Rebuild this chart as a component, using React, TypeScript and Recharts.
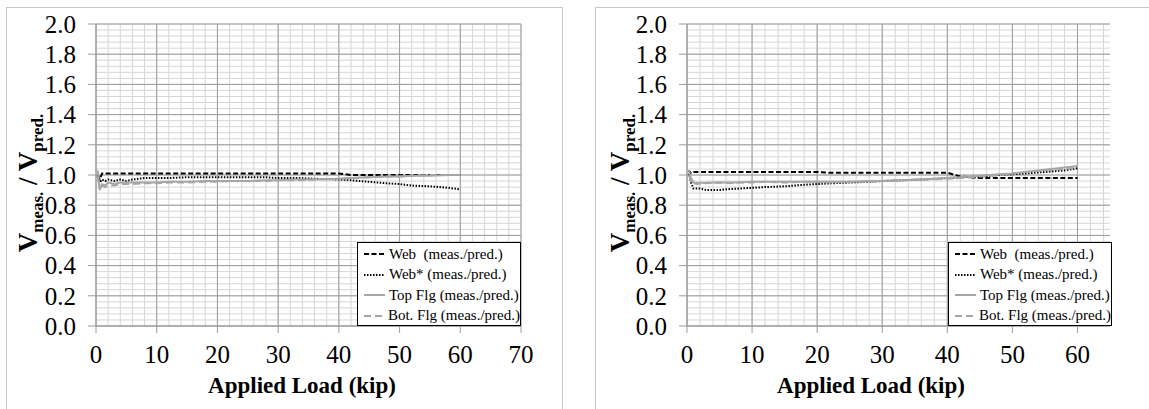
import React from 'react'
import {
  LineChart, Line, XAxis, YAxis, CartesianGrid, Legend, Label,
} from 'recharts'

const FONT = '"Liberation Serif", "Times New Roman", serif'

// applied load (kip) sample points
const loads = [0.3, 0.6, 1, 1.5, 2, 3, 4, 5, 6, 8, 10, 12, 15, 18, 20, 22, 25, 28, 30, 33, 36, 40, 42, 45, 48, 50, 52, 55, 58, 60]

// left specimen
const webLeft = [1.0, 0.97, 1.01, 1.01, 1.01, 1.01, 1.01, 1.01, 1.01, 1.01, 1.01, 1.01, 1.01, 1.01, 1.01, 1.01, 1.01, 1.01, 1.01, 1.01, 1.01, 1.01, 1.0, 1.0, 1.0, 1.0, 1.0, 1.0, 1.0, 1.0]
const webStarLeft = [1.0, 0.95, 0.97, 0.96, 0.97, 0.96, 0.97, 0.96, 0.97, 0.98, 0.98, 0.98, 0.985, 0.985, 0.985, 0.985, 0.985, 0.985, 0.98, 0.98, 0.975, 0.97, 0.965, 0.955, 0.945, 0.94, 0.93, 0.925, 0.915, 0.905]
const topFlgLeft = [1.03, 0.9, 0.94, 0.93, 0.95, 0.94, 0.95, 0.95, 0.95, 0.95, 0.95, 0.955, 0.955, 0.96, 0.96, 0.96, 0.96, 0.965, 0.965, 0.97, 0.97, 0.975, 0.98, 0.985, 0.99, 0.99, 0.995, 0.995, 1.0, 1.0]
const botFlgLeft = [0.98, 0.92, 0.93, 0.92, 0.93, 0.93, 0.94, 0.94, 0.94, 0.945, 0.945, 0.95, 0.95, 0.955, 0.955, 0.96, 0.96, 0.96, 0.965, 0.965, 0.97, 0.975, 0.98, 0.985, 0.99, 0.99, 0.995, 1.0, 1.0, 1.0]

// right specimen
const webRight = [0.99, 1.02, 1.02, 1.02, 1.02, 1.02, 1.02, 1.02, 1.02, 1.02, 1.02, 1.02, 1.02, 1.02, 1.02, 1.015, 1.015, 1.015, 1.015, 1.015, 1.015, 1.015, 0.99, 0.98, 0.98, 0.98, 0.98, 0.98, 0.98, 0.98]
const webStarRight = [1.03, 0.95, 0.91, 0.91, 0.91, 0.9, 0.9, 0.9, 0.905, 0.91, 0.915, 0.92, 0.925, 0.935, 0.94, 0.945, 0.95, 0.955, 0.96, 0.965, 0.97, 0.98, 0.985, 0.99, 1.0, 1.005, 1.01, 1.02, 1.03, 1.045]
const topFlgRight = [1.03, 0.98, 0.95, 0.94, 0.95, 0.945, 0.95, 0.95, 0.95, 0.95, 0.955, 0.955, 0.955, 0.955, 0.955, 0.955, 0.955, 0.96, 0.96, 0.965, 0.97, 0.98, 0.985, 0.995, 1.005, 1.01, 1.02, 1.035, 1.05, 1.06]
const botFlgRight = [1.0, 0.96, 0.94, 0.95, 0.94, 0.95, 0.945, 0.95, 0.945, 0.95, 0.95, 0.955, 0.95, 0.955, 0.955, 0.95, 0.955, 0.955, 0.96, 0.965, 0.97, 0.975, 0.98, 0.99, 1.0, 1.01, 1.02, 1.03, 1.04, 1.05]

const yTicks = [0, 0.2, 0.4, 0.6, 0.8, 1.0, 1.2, 1.4, 1.6, 1.8, 2.0]
const xTicksLeft = [0, 10, 20, 30, 40, 50, 60, 70]
const xTicksRight = [0, 10, 20, 30, 40, 50, 60]

const GRAY = '#a6a6a6'
const seriesStyle = [
  { key: 'web', name: 'Web  (meas./pred.)', color: '#000', dash: '5 2.5' },
  { key: 'webStar', name: 'Web* (meas./pred.)', color: '#000', dash: '1.5 1.5' },
  { key: 'topFlg', name: 'Top Flg (meas./pred.)', color: GRAY, dash: undefined },
  { key: 'botFlg', name: 'Bot. Flg (meas./pred.)', color: GRAY, dash: '7 4' },
]

function range(from: number, to: number, step: number) {
  const out: number[] = []
  for (let v = from; v <= to + 1e-9; v += step) out.push(Math.round(v * 1000) / 1000)
  return out
}

function LegendBox() {
  return (
    <div style={{
      border: '1px solid #000', background: '#fff', boxSizing: 'border-box', width: '100%', height: '100%',
      padding: '1px 0 0 5px', fontFamily: FONT, fontSize: 15, color: '#000',
    }}>
      {seriesStyle.map((s) => (
        <div key={s.key} style={{ display: 'flex', alignItems: 'center', height: 20.5, whiteSpace: 'pre' }}>
          <svg width={24} height={10} style={{ marginRight: 2 }}>
            <line x1={1} y1={5} x2={22} y2={5} stroke={s.color} strokeWidth={2} strokeDasharray={s.dash} />
          </svg>
          <span>{s.name}</span>
        </div>
      ))}
    </div>
  )
}

interface PanelProps {
  left: number
  width: number
  marginRight: number
  yAxisWidth: number
  xMax: number
  xTicks: number[]
  series: number[][]
  legendLeft: number
  titleX: number
  yLabelX: number
}

function Panel(p: PanelProps) {
  const data = loads.map((load, i) => ({
    load,
    web: p.series[0][i],
    webStar: p.series[1][i],
    topFlg: p.series[2][i],
    botFlg: p.series[3][i],
  }))
  const tickFont = { fontFamily: FONT, fontSize: 25, fill: '#000' }
  return (
    <div style={{ position: 'absolute', left: p.left, top: 0 }}>
      <LineChart width={p.width} height={409} data={data} margin={{ top: 24, right: p.marginRight, left: 10, bottom: 0 }}>
        <CartesianGrid stroke="#d6d6d6" strokeWidth={1} horizontalValues={range(0, 2, 0.04)} verticalValues={range(0, p.xMax, 2)} />
        <CartesianGrid stroke="#9c9c9c" strokeWidth={1} horizontalValues={yTicks} verticalValues={p.xTicks} />
        <XAxis
          type="number" dataKey="load" domain={[0, p.xMax]} ticks={p.xTicks} height={83} interval={0}
          tick={tickFont} tickSize={7} tickMargin={12}
          axisLine={{ stroke: '#9c9c9c' }} tickLine={{ stroke: '#9c9c9c' }}
        >
          <Label content={(lp: any) => (
            <text x={p.titleX} y={lp.viewBox.y + 67} textAnchor="middle" style={{ fontFamily: FONT }} fontSize={23} fontWeight="bold" fill="#000">
              Applied Load (kip)
            </text>
          )} />
        </XAxis>
        <YAxis
          type="number" domain={[0, 2]} ticks={yTicks} width={p.yAxisWidth} interval={0}
          tick={tickFont} tickSize={8} tickMargin={12} tickFormatter={(v: number) => v.toFixed(1)}
          axisLine={{ stroke: '#9c9c9c' }} tickLine={{ stroke: '#9c9c9c' }}
        >
          <Label content={() => (
            <text x={p.yLabelX} y={183} transform={`rotate(-90, ${p.yLabelX}, 183)`} textAnchor="middle" style={{ fontFamily: FONT }} fontWeight="bold" fill="#000" fontSize={27}>
              <tspan>V</tspan>
              <tspan fontSize={17} dy={6}>meas.</tspan>
              <tspan fontSize={27} dy={-6}> / V</tspan>
              <tspan fontSize={17} dy={6}>pred.</tspan>
            </text>
          )} />
        </YAxis>
        <Legend
          layout="horizontal" verticalAlign="middle" align="center"
          wrapperStyle={{ left: p.legendLeft, top: 242, width: 164, height: 84 }}
          content={() => <LegendBox />}
        />
        {seriesStyle.map((s) => (
          <Line
            key={s.key} type="linear" dataKey={s.key} name={s.name} stroke={s.color} strokeWidth={2}
            strokeDasharray={s.dash} dot={false} isAnimationActive={false}
          />
        ))}
      </LineChart>
    </div>
  )
}

export default function App() {
  return (
    <div style={{ position: 'absolute', left: 0, top: 0, width: 1149, height: 409, overflow: 'hidden', background: '#fff', fontFamily: FONT }}>
      <div style={{ position: 'absolute', left: 6, top: 7, width: 555, height: 420, border: '1px solid #c8c8c8' }} />
      <div style={{ position: 'absolute', left: 595, top: 7, width: 600, height: 420, border: '1px solid #c8c8c8' }} />
      <Panel
        left={0} width={561} marginRight={40} yAxisWidth={86} xMax={70} xTicks={xTicksLeft}
        series={[webLeft, webStarLeft, topFlgLeft, botFlgLeft]} legendLeft={357} titleX={302} yLabelX={37}
      />
      <Panel
        left={595} width={554} marginRight={39} yAxisWidth={82} xMax={65} xTicks={xTicksRight}
        series={[webRight, webStarRight, topFlgRight, botFlgRight]} legendLeft={353} titleX={276} yLabelX={34}
      />
    </div>
  )
}
